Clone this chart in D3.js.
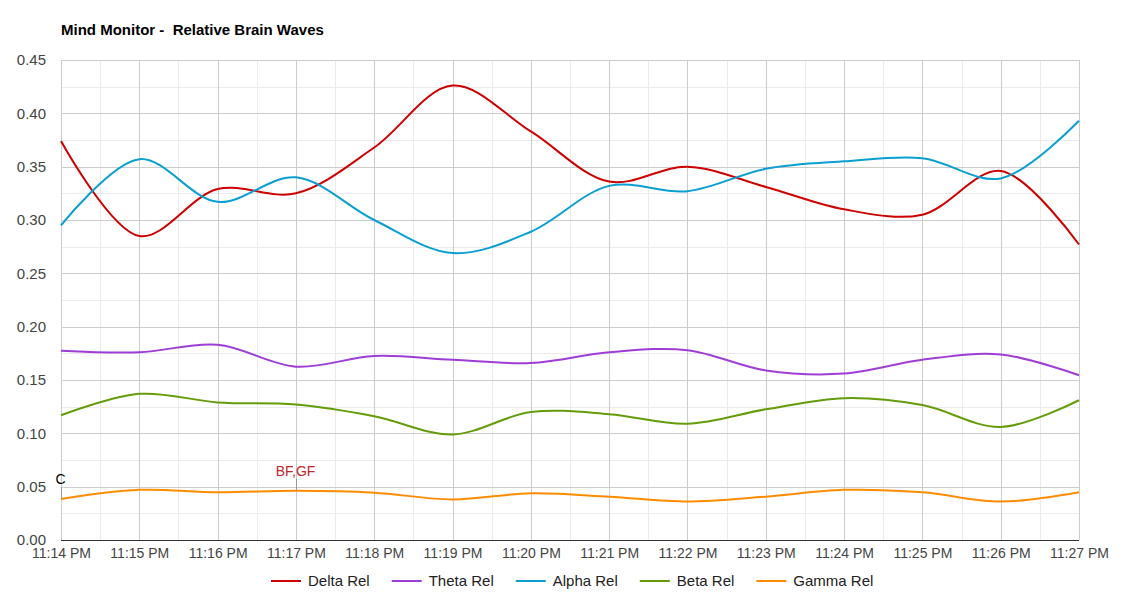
<!DOCTYPE html>
<html>
<head>
<meta charset="utf-8">
<script src="https://cdn.jsdelivr.net/npm/d3@7"></script>
<style>
  body { margin: 0; background: #fff; }
  svg { font-family: "Liberation Sans", Arial, sans-serif; }
</style>
</head>
<body>
<svg width="1140" height="600"></svg>
<script>
// sample times (one reading per minute)
var times = ["23:14","23:15","23:16","23:17","23:18","23:19","23:20",
             "23:21","23:22","23:23","23:24","23:25","23:26","23:27"];

var delta = [0.374, 0.285, 0.329, 0.325, 0.368, 0.426, 0.383, 0.336, 0.350, 0.331, 0.310, 0.305, 0.346, 0.277];
var theta = [0.1775, 0.176, 0.183, 0.1625, 0.1725, 0.169, 0.166, 0.176, 0.178, 0.159, 0.156, 0.169, 0.174, 0.1545];
var alpha = [0.295, 0.357, 0.317, 0.340, 0.300, 0.269, 0.289, 0.332, 0.327, 0.348, 0.355, 0.358, 0.339, 0.393];
var beta  = [0.117, 0.137, 0.129, 0.127, 0.116, 0.099, 0.120, 0.118, 0.109, 0.1225, 0.133, 0.1265, 0.106, 0.131];
var gamma = [0.0384, 0.047, 0.0447, 0.0462, 0.0444, 0.038, 0.0438, 0.0406, 0.036, 0.0406, 0.047, 0.0447, 0.036, 0.0447];

var seriesNames = ["Delta Rel", "Theta Rel", "Alpha Rel", "Beta Rel", "Gamma Rel"];
var seriesColors = ["#cc0000", "#9f3ed6", "#0a9fd0", "#659c0a", "#ff8c00"];
var yTicks = [0, 0.05, 0.10, 0.15, 0.20, 0.25, 0.30, 0.35, 0.40, 0.45];

// annotations on the gamma series
var notes = [
  {time: "23:14", text: "C", color: "#000000"},
  {time: "23:17", text: "BF,GF", color: "#c0282d"}
];

var svgWidth = 1140, svgHeight = 600;
var margin = {top: 60, right: 61, bottom: 60, left: 61};

var svg = d3.select("svg");
var parse = d3.timeParse("%H:%M");
var dates = times.map(parse);

var allSeries = [delta, theta, alpha, beta, gamma].map(function(vals, i) {
  return {
    name: seriesNames[i],
    color: seriesColors[i],
    pairs: vals.map(function(v, j) { return {x: dates[j], y: v}; })
  };
});

var x = d3.scaleTime()
  .domain(d3.extent(dates))
  .range([margin.left, svgWidth - margin.right]);

var y = d3.scaleLinear()
  .domain([0, 0.45])
  .range([svgHeight - margin.bottom, margin.top]);

/*
 gridlines
*/
var minorX = d3.timeSecond.every(30).range(x.domain()[0], d3.timeSecond.offset(x.domain()[1], 1));
var minorY = d3.range(0, 0.45 + 0.001, 0.025);

var grid = svg.append("g");
grid.selectAll(".mx").data(minorX).enter().append("line")
  .attr("x1", d => Math.round(x(d)) + 0.5).attr("x2", d => Math.round(x(d)) + 0.5)
  .attr("y1", y(0.45)).attr("y2", y(0))
  .attr("stroke", "#ebebeb");
grid.selectAll(".my").data(minorY).enter().append("line")
  .attr("y1", d => Math.round(y(d)) + 0.5).attr("y2", d => Math.round(y(d)) + 0.5)
  .attr("x1", x.range()[0]).attr("x2", x.range()[1])
  .attr("stroke", "#ebebeb");
grid.selectAll(".gx").data(dates).enter().append("line")
  .attr("x1", d => Math.round(x(d)) + 0.5).attr("x2", d => Math.round(x(d)) + 0.5)
  .attr("y1", y(0.45)).attr("y2", y(0))
  .attr("stroke", "#cccccc");
grid.selectAll(".gy").data(yTicks).enter().append("line")
  .attr("y1", d => Math.round(y(d)) + 0.5).attr("y2", d => Math.round(y(d)) + 0.5)
  .attr("x1", x.range()[0]).attr("x2", x.range()[1])
  .attr("stroke", d => d === 0 ? "#333333" : "#cccccc");

/*
 axes labels
*/
var xAxis = g => g
  .attr("transform", "translate(0," + (svgHeight - margin.bottom) + ")")
  .call(d3.axisBottom(x).tickValues(dates).tickFormat(d3.timeFormat("%-I:%M %p")).tickSize(0).tickPadding(8))
  .call(g => g.select(".domain").remove())
  .call(g => g.selectAll("text").attr("font-size", 14).attr("fill", "#444").attr("font-family", "Liberation Sans, Arial, sans-serif"));

var yAxis = g => g
  .attr("transform", "translate(" + margin.left + ",0)")
  .call(d3.axisLeft(y).tickValues(yTicks).tickFormat(d3.format(".2f")).tickSize(0).tickPadding(15))
  .call(g => g.select(".domain").remove())
  .call(g => g.selectAll("text").attr("font-size", 15).attr("fill", "#444").attr("font-family", "Liberation Sans, Arial, sans-serif"));

svg.append("g").call(xAxis);
svg.append("g").call(yAxis);

/*
 lines
*/
var line = d3.line()
  .curve(d3.curveCatmullRom.alpha(0.5))
  .x(d => x(d.x))
  .y(d => y(d.y));

allSeries.forEach(function(s) {
  svg.append("path")
    .datum(s.pairs)
    .attr("fill", "none")
    .attr("stroke", s.color)
    .attr("stroke-width", 2)
    .attr("stroke-linejoin", "round")
    .attr("d", line);
});

/*
 annotations
*/
notes.forEach(function(n) {
  var d = parse(n.time);
  var idx = dates.findIndex(t => +t === +d);
  var px = Math.round(x(d)) + 0.5;
  var py = y(gamma[idx]);
  svg.append("line")
    .attr("x1", px).attr("x2", px)
    .attr("y1", py).attr("y2", py - 12)
    .attr("stroke", "#999").attr("stroke-width", 1);
  svg.append("text")
    .attr("x", px - 1).attr("y", py - 15)
    .attr("text-anchor", "middle")
    .attr("font-size", 14)
    .attr("fill", n.color)
    .text(n.text);
});

/*
 title
*/
svg.append("text")
  .attr("x", 61).attr("y", 35)
  .attr("font-size", 15).attr("font-weight", "bold")
  .attr("fill", "#000")
  .style("white-space", "pre")
  .text("Mind Monitor -  Relative Brain Waves");

/*
 legend
*/
var legend = svg.append("g");
var lx = 0;
allSeries.forEach(function(s, i) {
  var g = legend.append("g").attr("transform", "translate(" + lx + ",0)");
  g.append("line").attr("x1", 0).attr("x2", 30).attr("y1", 0).attr("y2", 0)
    .attr("stroke", s.color).attr("stroke-width", 2);
  var t = g.append("text").attr("x", 37).attr("y", 5)
    .attr("font-size", 15).attr("fill", "#222").text(s.name);
  lx += 37 + t.node().getComputedTextLength() + 22;
});
var legendW = lx - 22;
legend.attr("transform", "translate(" + Math.round((x.range()[0] + x.range()[1]) / 2 - legendW / 2 + 2) + ",581)");
</script>
</body>
</html>
